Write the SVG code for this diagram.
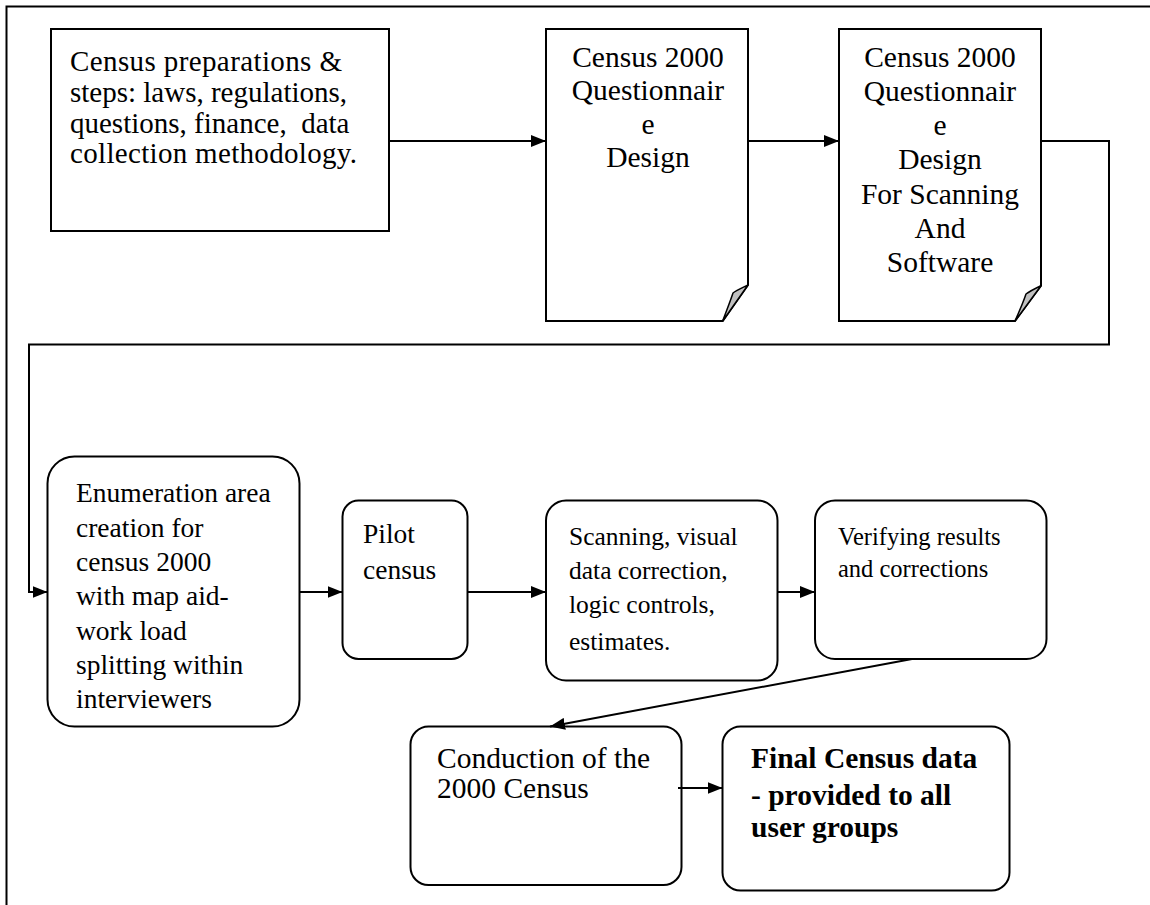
<svg xmlns="http://www.w3.org/2000/svg" width="1150" height="905" viewBox="0 0 1150 905">
<style>
.box{fill:#fff;stroke:#000;stroke-width:2}
.fold{fill:#c0c0c0;stroke:#000;stroke-width:1.5;stroke-linejoin:round}
.con{fill:none;stroke:#000;stroke-width:2}
.t{font-family:"Liberation Serif","Times New Roman",serif;fill:#000;white-space:pre}
.c{text-anchor:middle}
.b{font-weight:bold}
</style>
<defs>
<marker id="ah" markerUnits="userSpaceOnUse" markerWidth="16" markerHeight="12" refX="15" refY="6" orient="auto">
<path d="M0,0 L15,6 L0,12 Z" fill="#000"/>
</marker>
</defs>
<rect width="1150" height="905" fill="#fff"/>
<path d="M6.5,905 L6.5,6.5 L1150,6.5" fill="none" stroke="#000" stroke-width="2"/>

<g id="n1">
<rect class="box" x="51" y="29" width="338" height="202"/>
<text class="t" font-size="29"><tspan x="70" y="71" textLength="272" lengthAdjust="spacing">Census preparations &amp;</tspan><tspan x="70" y="102">steps: laws, regulations,</tspan><tspan x="70" y="132.5">questions, finance,  data</tspan><tspan x="70" y="163" textLength="287" lengthAdjust="spacing">collection methodology.</tspan></text>
</g>

<g id="n2">
<path class="box" d="M546,29 L748,29 L748,285 L722.7,321 L546,321 Z"/>
<path class="fold" d="M722.7,321 L748,285 C742,288 737,290 733,293 C730,302 726,312 722.7,321 Z"/>
<text class="t c" font-size="29.5"><tspan x="648" y="67">Census 2000</tspan><tspan x="648" y="100">Questionnair</tspan><tspan x="648" y="134">e</tspan><tspan x="648" y="167">Design</tspan></text>
</g>

<g id="n3">
<path class="box" d="M839,29 L1041,29 L1041,285.7 L1015,321 L839,321 Z"/>
<path class="fold" d="M1015,321 L1041,285.7 C1035,288.5 1030,291 1026,294 C1023,303 1019,312 1015,321 Z"/>
<text class="t c" font-size="29.5"><tspan x="940" y="67">Census 2000</tspan><tspan x="940" y="101">Questionnair</tspan><tspan x="940" y="135">e</tspan><tspan x="940" y="169">Design</tspan><tspan x="940" y="204">For Scanning</tspan><tspan x="940" y="238">And</tspan><tspan x="940" y="272">Software</tspan></text>
</g>

<g id="n4">
<rect class="box" x="47.5" y="456.5" width="252" height="270" rx="27"/>
<text class="t" font-size="27.5"><tspan x="76" y="502">Enumeration area</tspan><tspan x="76" y="536.5">creation for</tspan><tspan x="76" y="571">census 2000</tspan><tspan x="76" y="605">with map aid-</tspan><tspan x="76" y="640">work load</tspan><tspan x="76" y="674">splitting within</tspan><tspan x="76" y="708">interviewers</tspan></text>
</g>

<g id="n5">
<rect class="box" x="342.5" y="500.5" width="125" height="158.5" rx="16"/>
<text class="t" font-size="27.5"><tspan x="363" y="543">Pilot</tspan><tspan x="363" y="579">census</tspan></text>
</g>

<g id="n6">
<rect class="box" x="546" y="500.5" width="231.5" height="180" rx="20"/>
<text class="t" font-size="25.5"><tspan x="569" y="545">Scanning, visual</tspan><tspan x="569" y="578.5">data correction,</tspan><tspan x="569" y="613">logic controls,</tspan><tspan x="569" y="650">estimates.</tspan></text>
</g>

<g id="n7">
<rect class="box" x="815" y="500.5" width="231.5" height="158.5" rx="20"/>
<text class="t" font-size="24.5"><tspan x="838" y="545">Verifying results</tspan><tspan x="838" y="577">and corrections</tspan></text>
</g>

<g id="n8">
<rect class="box" x="410.5" y="726.5" width="271" height="158.5" rx="18"/>
<text class="t" font-size="29.5"><tspan x="437" y="768">Conduction of the</tspan><tspan x="437" y="797.5">2000 Census</tspan></text>
</g>

<g id="n9">
<rect class="box" x="722.5" y="726.5" width="287" height="164" rx="18"/>
<text class="t b" font-size="29.5"><tspan x="751" y="768">Final Census data</tspan><tspan x="751" y="805">- provided to all</tspan><tspan x="751" y="837">user groups</tspan></text>
</g>

<g id="connectors">
<path class="con" d="M389,141 L546,141" marker-end="url(#ah)"/>
<path class="con" d="M748,141 L839,141" marker-end="url(#ah)"/>
<path class="con" d="M1041,141 L1109,141 L1109,344.5 L29,344.5 L29,592 L47.5,592" marker-end="url(#ah)"/>
<path class="con" d="M299.5,592 L342.5,592" marker-end="url(#ah)"/>
<path class="con" d="M467.5,592 L546,592" marker-end="url(#ah)"/>
<path class="con" d="M777.5,592 L815,592" marker-end="url(#ah)"/>
<path class="con" d="M912,659 L550,726.5" marker-end="url(#ah)"/>
<path class="con" d="M678,788 L722.5,788" marker-end="url(#ah)"/>
</g>
</svg>
